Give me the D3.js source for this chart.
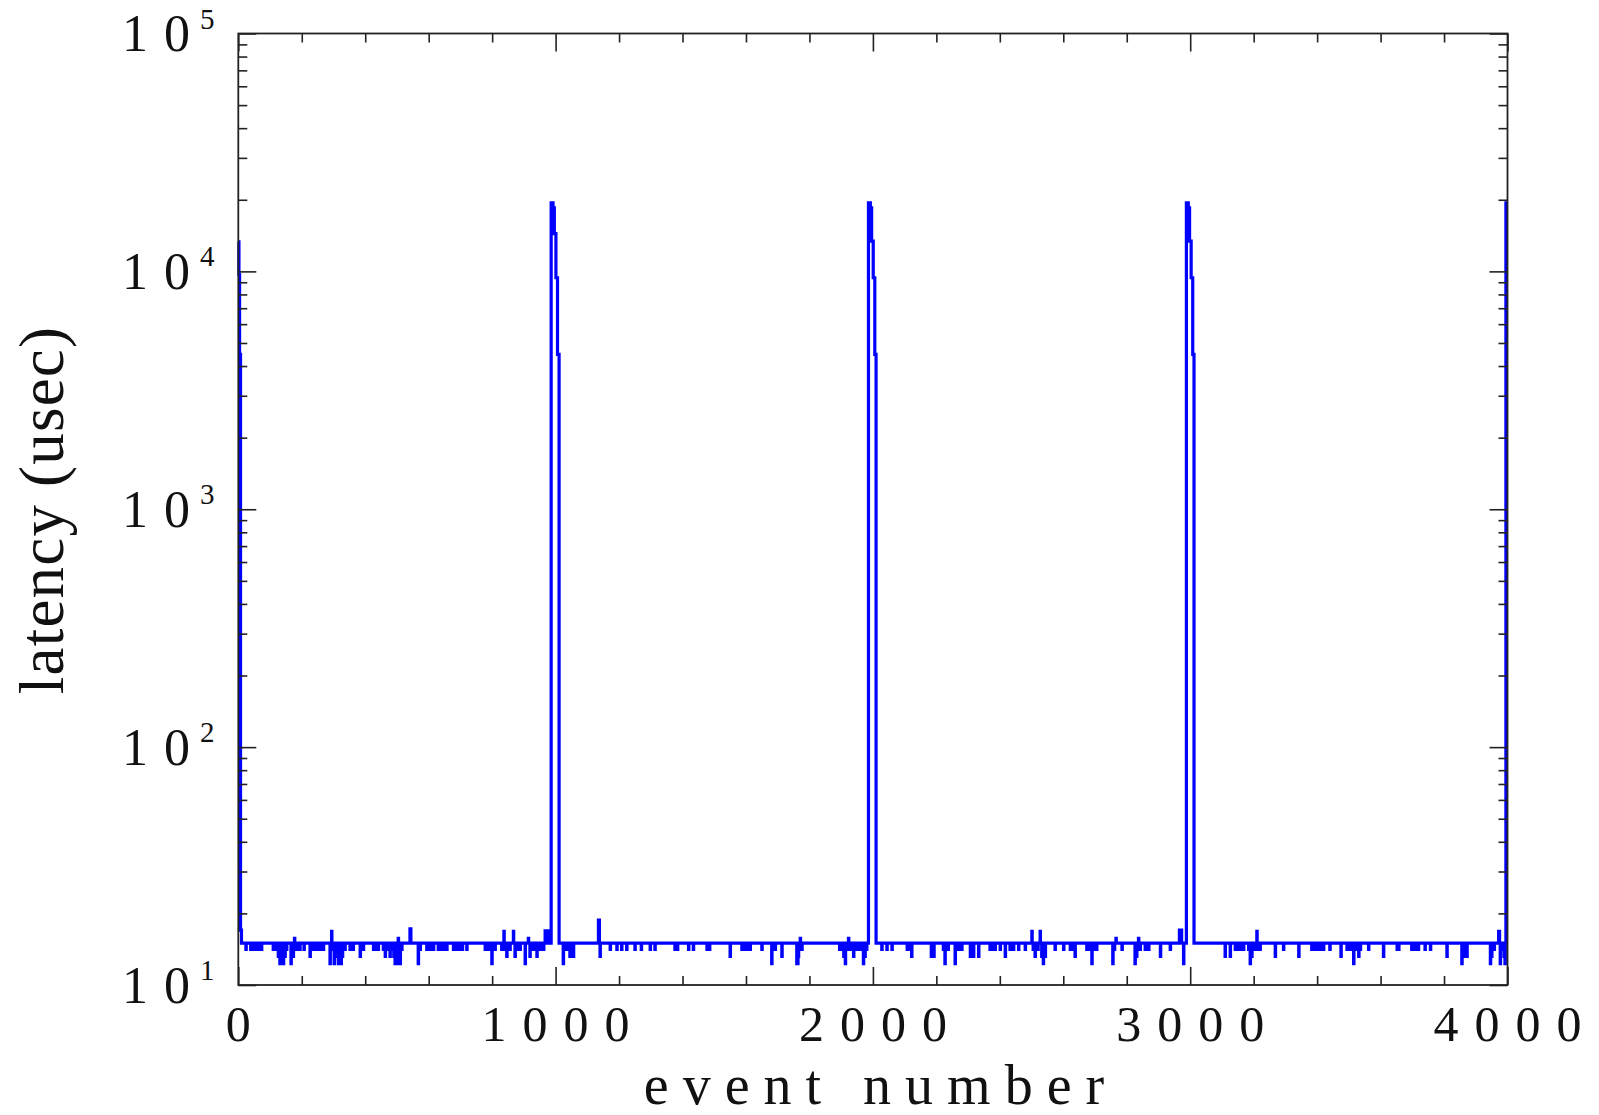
<!DOCTYPE html>
<html>
<head>
<meta charset="utf-8">
<script src="https://cdn.jsdelivr.net/npm/d3@7"></script>
<style>
html,body{margin:0;padding:0;background:#fff;}
svg{display:block;}
</style>
</head>
<body>
<svg id="chart" width="1599" height="1115"></svg>
<script>
// ---------- data ----------
const eventCount = 4000;
const baselineLatency = 15;            // usec, flat level between bursts
const xTickValues = [0, 1000, 2000, 3000, 4000];
const xTickLabels = ["0", "1000", "2000", "3000", "4000"];
const yTickExponents = [1, 2, 3, 4, 5];
const xLabel = "event number";
const yLabel = "latency (usec)";

// high-latency bursts: [first event, last event, latency usec]
const burstStart = [0, 2, 4, 7, 967, 986, 992, 996, 1001, 1006, 1986, 1992, 1996, 2001, 2006, 2966, 2988, 2994, 2998, 3003, 3008, 3995];
const burstEnd   = [1, 3, 6, 9, 976, 991, 995, 1000, 1005, 1010, 1991, 1995, 2000, 2005, 2009, 2972, 2993, 2997, 3002, 3007, 3011, 3999];
const burstValue = [13300, 9700, 4480, 17, 16.9, 19400, 18500, 14400, 9400, 4480, 19400, 18500, 13400, 9400, 4480, 17, 19400, 18500, 13400, 9400, 4480, 19400];

// single-event deviations from the baseline: event, latency usec
const dipEvent = [24,39,47,50,53,57,61,65,69,73,110,121,126,131,136,142,147,152,166,173,177,184,189,194,207,226,236,240,244,249,253,257,268,289,294,298,302,308,312,315,320,324,328,331,336,352,362,384,389,394,426,436,441,457,463,468,473,478,485,490,494,499,504,507,510,515,541,543,567,573,594,598,602,606,610,615,630,636,640,646,657,678,682,686,690,694,698,702,706,720,778,782,786,790,793,799,809,830,835,837,842,846,851,856,867,872,877,888,904,914,919,925,930,941,951,962,
1024,1035,1045,1056,1135,1137,1140,1172,1193,1208,1224,1250,1270,1298,1313,1376,1380,1384,1419,1434,1477,1481,1485,1550,1587,1592,1597,1602,1607,1613,1650,1681,1692,1713,1760,1763,1765,1768,1771,1773,1776,1895,1899,1903,1908,1913,1918,1923,1928,1932,1939,1950,1955,1960,1965,1970,1975,1980,
2028,2044,2060,2108,2113,2118,2122,2184,2192,2222,2227,2232,2237,2259,2270,2275,2280,2307,2317,2333,2369,2374,2380,2385,2401,2417,2432,2438,2443,2459,2480,2501,2505,2511,2520,2527,2532,2537,2543,2574,2601,2622,2627,2632,2637,2674,2679,2684,2690,2695,2700,2705,2756,2761,2766,2785,2826,2831,2837,2842,2858,2869,2906,2937,2979,
3110,3126,3142,3147,3152,3157,3163,3168,3184,3189,3194,3200,3205,3210,3215,3220,3268,3294,3342,3383,3388,3393,3404,3409,3420,3440,3475,3494,3499,3505,3510,3515,3520,3526,3531,3536,3562,3609,3652,3657,3698,3703,3708,3714,3719,3740,3757,3809,3856,3862,3872,3946,3950,3958,3972,3974,3977,3983,3989,3992];
const dipValue = [14.1,14.1,14.1,14.1,14.1,14.1,14.1,14.1,14.1,14.1,14.1,14.1,13.2,12.3,14.1,12.3,13.2,14.1,12.3,13.2,15.7,14.1,14.1,14.1,14.1,13.2,14.1,14.1,14.1,14.1,14.1,14.1,14.1,12.3,16.8,14.1,12.3,14.1,13.2,12.3,14.1,12.3,13.2,14.1,14.1,14.1,14.1,13.2,14.1,14.1,14.1,14.1,14.1,14.1,13.2,14.1,14.1,13.2,14.1,13.2,12.3,12.3,15.7,14.1,12.3,14.1,17.2,17.2,12.3,14.1,14.1,14.1,14.1,14.1,14.1,14.1,14.1,14.1,14.1,14.1,14.1,14.1,14.1,14.1,14.1,14.1,14.1,14.1,14.1,14.1,14.1,14.1,14.1,14.1,14.1,12.3,14.1,14.1,14.1,16.8,14.1,13.2,14.1,14.1,16.8,13.2,14.1,14.1,12.3,15.7,13.2,14.1,14.1,13.2,14.1,14.1,
12.3,14.1,13.2,13.2,18.75,18.75,13.2,14.1,14.1,14.1,14.1,14.1,14.1,14.1,14.1,14.1,14.1,14.1,14.1,14.1,14.1,14.1,14.1,13.2,14.1,14.1,14.1,14.1,14.1,14.1,14.1,12.3,14.1,13.2,12.3,12.3,13.2,14.1,15.7,14.1,14.1,14.1,14.1,14.1,13.2,12.3,14.1,15.7,14.1,14.1,13.2,14.1,14.1,14.1,14.1,12.3,13.2,14.1,
14.1,14.1,14.1,14.1,14.1,14.1,13.2,13.2,13.2,14.1,12.3,14.1,14.1,12.3,14.1,14.1,14.1,13.2,13.2,13.2,14.1,14.1,14.1,14.1,14.1,13.2,14.1,14.1,14.1,14.1,14.1,16.8,14.1,13.2,14.1,16.8,13.2,12.3,13.2,14.1,14.1,14.1,14.1,14.1,13.2,14.1,14.1,14.1,12.3,14.1,14.1,14.1,12.3,14.1,15.7,14.1,12.3,13.2,15.7,14.1,14.1,14.1,13.2,14.1,12.3,
13.2,13.2,14.1,14.1,14.1,14.1,14.1,14.1,14.1,12.3,13.2,14.1,14.1,16.8,14.1,14.1,13.2,14.1,13.2,14.1,14.1,14.1,14.1,14.1,14.1,14.1,13.2,14.1,14.1,14.1,14.1,12.3,14.1,14.1,13.2,14.1,14.1,13.2,14.1,14.1,14.1,14.1,14.1,14.1,14.1,14.1,14.1,13.2,12.3,13.2,13.2,12.3,13.2,14.1,16.8,16.8,12.3,14.1,13.2,12.3];

// ---------- build series ----------
const latency = new Array(eventCount).fill(baselineLatency);
dipEvent.forEach((e, i) => { latency[e] = dipValue[i]; });
burstStart.forEach((s, i) => { for (let e = s; e <= burstEnd[i]; e++) latency[e] = burstValue[i]; });
const series = latency.map((v, i) => ({ event: i, value: v }));

// ---------- layout ----------
const svg = d3.select("#chart");
const plot = { left: 238.3, right: 1507.5, top: 33.5, bottom: 985 };
const x = d3.scaleLinear().domain([0, 4000]).range([plot.left, plot.right]);
const y = d3.scaleLog().domain([10, 1e5]).range([plot.bottom, plot.top]);

const font = "'Liberation Serif', 'Times New Roman', serif";
const majorLen = 18, minorLen = 9;

// data line
const line = d3.line()
  .x(d => x(d.event))
  .y(d => y(d.value))
  .curve(d3.curveStepAfter);
svg.append("path")
  .datum(series)
  .attr("fill", "none")
  .attr("stroke", "#0000ff")
  .attr("stroke-width", 3.2)
  .attr("stroke-linejoin", "miter")
  .attr("d", line);

// axes: ticks drawn inward on all four sides
const xMinor = d3.range(0, 4001, 200).filter(v => v % 1000 !== 0);
const yMinor = [];
yTickExponents.slice(0, -1).forEach(p => { for (let k = 2; k <= 9; k++) yMinor.push(k * Math.pow(10, p)); });
const yMajor = yTickExponents.map(p => Math.pow(10, p));

function styleAxis(g) {
  g.select(".domain").remove();
  g.selectAll(".tick line").attr("stroke", "#222").attr("stroke-width", 1.6);
  g.selectAll(".tick text").remove();
}
[[xTickValues, majorLen], [xMinor, minorLen]].forEach(([vals, len]) => {
  svg.append("g").attr("transform", `translate(0,${plot.bottom})`)
    .call(d3.axisBottom(x).tickValues(vals).tickSize(-len).tickFormat("")).call(styleAxis);
  svg.append("g").attr("transform", `translate(0,${plot.top})`)
    .call(d3.axisTop(x).tickValues(vals).tickSize(-len).tickFormat("")).call(styleAxis);
});
[[yMajor, majorLen], [yMinor, minorLen]].forEach(([vals, len]) => {
  svg.append("g").attr("transform", `translate(${plot.left},0)`)
    .call(d3.axisLeft(y).tickValues(vals).tickSize(-len).tickFormat("")).call(styleAxis);
  svg.append("g").attr("transform", `translate(${plot.right},0)`)
    .call(d3.axisRight(y).tickValues(vals).tickSize(-len).tickFormat("")).call(styleAxis);
});

// frame
svg.append("rect")
  .attr("x", plot.left).attr("y", plot.top)
  .attr("width", plot.right - plot.left).attr("height", plot.bottom - plot.top)
  .attr("fill", "none").attr("stroke", "#222").attr("stroke-width", 1.8);

// x tick labels
const numLS = 16;
svg.append("g").selectAll("text").data(xTickValues).join("text")
  .attr("x", d => x(d) + numLS / 2)
  .attr("y", plot.bottom + 56)
  .attr("text-anchor", "middle")
  .attr("font-family", font).attr("font-size", 50)
  .attr("letter-spacing", numLS)
  .attr("fill", "#111")
  .text((d, i) => xTickLabels[i]);

// y tick labels: 10 with superscript exponent
const yl = svg.append("g").selectAll("g").data(yTickExponents).join("g");
const base = yl.append("text")
  .attr("x", 122)
  .attr("y", d => y(Math.pow(10, d)) + 17.5)
  .attr("font-family", font).attr("font-size", 52)
  .attr("fill", "#111");
base.append("tspan").text("1");
base.append("tspan").attr("dx", numLS).text("0");
yl.append("text")
  .attr("x", 200)
  .attr("y", d => y(Math.pow(10, d)) - 5)
  .attr("font-family", font).attr("font-size", 29)
  .attr("fill", "#111")
  .text(d => String(d));

// axis titles
const xLS = 14;
svg.append("text")
  .attr("x", 874 + xLS / 2).attr("y", 1104)
  .attr("text-anchor", "middle")
  .attr("font-family", font).attr("font-size", 56)
  .attr("letter-spacing", xLS)
  .attr("fill", "#111")
  .text(xLabel);
svg.append("text")
  .attr("transform", "translate(63,510) rotate(-90)")
  .attr("text-anchor", "middle")
  .attr("font-family", font).attr("font-size", 63)
  .attr("letter-spacing", 1.2)
  .attr("fill", "#111")
  .text(yLabel);
</script>
</body>
</html>
